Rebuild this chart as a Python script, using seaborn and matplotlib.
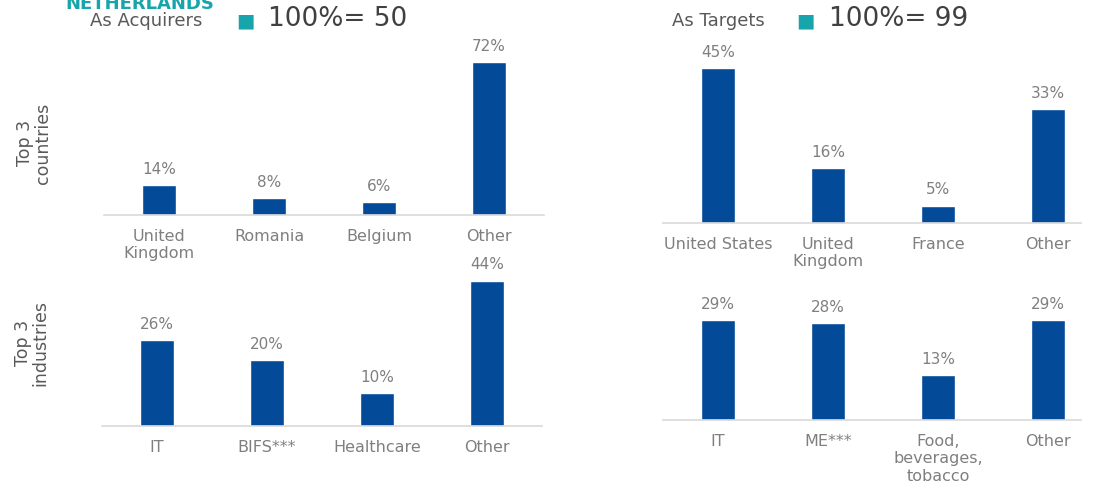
import matplotlib
matplotlib.use("Agg")
import matplotlib.pyplot as plt
import seaborn as sns

sns.set_style("white")
plt.rcParams['font.family'] = ['DejaVu Sans']

# data
acq_countries = ["United\nKingdom", "Romania", "Belgium", "Other"]
acq_countries_pct = [14, 8, 6, 72]
tgt_countries = ["United States", "United\nKingdom", "France", "Other"]
tgt_countries_pct = [45, 16, 5, 33]
acq_industries = ["IT", "BIFS***", "Healthcare", "Other"]
acq_industries_pct = [26, 20, 10, 44]
tgt_industries = ["IT", "ME***", "Food,\nbeverages,\ntobacco", "Other"]
tgt_industries_pct = [29, 28, 13, 29]

BLUE = "#034a99"
TEAL = "#17a5ab"
GRAY = "#7f7f7f"
W, H = 1094, 491

fig = plt.figure(figsize=(W / 100, H / 100), dpi=100)


def panel(left, right, bottom, top, ymax, cats, vals, xmax=3.5):
    ax = fig.add_axes([left / W, 1 - bottom / H, (right - left) / W, (bottom - top) / H])
    sns.barplot(x=cats, y=vals, ax=ax, color=BLUE, width=0.31, saturation=1, order=cats)
    ax.set_xlim(-0.5, xmax)
    ax.set_ylim(0, ymax)
    for s in ["top", "right", "left"]:
        ax.spines[s].set_visible(False)
    ax.spines["bottom"].set_color("#d9d9d9")
    ax.spines["bottom"].set_linewidth(1.2)
    ax.set_yticks([])
    ax.set_xlabel("")
    ax.set_ylabel("")
    ax.tick_params(axis="x", length=0, pad=10, labelsize=11.5, labelcolor=GRAY)
    ax.bar_label(ax.containers[0], labels=[f"{v}%" for v in vals], padding=6,
                 fontsize=11, color=GRAY)
    return ax


panel(104, 544, 215, 45, 80, acq_countries, acq_countries_pct)
panel(663, 1081, 223, 51, 50, tgt_countries, tgt_countries_pct, xmax=3.3)
panel(102, 542, 426, 261, 50, acq_industries, acq_industries_pct)
panel(663, 1081, 420, 282, 40, tgt_industries, tgt_industries_pct, xmax=3.3)

# headers
fig.text(65 / W, 1 - 4 / H, "NETHERLANDS", color=TEAL, fontsize=13, fontweight="bold",
         va="center", ha="left")
fig.text(90 / W, 1 - 21 / H, "As Acquirers", color="#595959", fontsize=13, va="center")
fig.text(236 / W, 1 - 21 / H, "\u25a0", color=TEAL, fontsize=14, va="center")
fig.text(268 / W, 1 - 19 / H, "100%= 50", color="#404040", fontsize=19, va="center")
fig.text(672 / W, 1 - 21 / H, "As Targets", color="#595959", fontsize=13, va="center")
fig.text(796 / W, 1 - 21 / H, "\u25a0", color=TEAL, fontsize=14, va="center")
fig.text(829 / W, 1 - 19 / H, "100%= 99", color="#404040", fontsize=19, va="center")

# row labels
fig.text(34 / W, 1 - 143 / H, "Top 3\ncountries", color="#595959", fontsize=12.5,
         rotation=90, ha="center", va="center", linespacing=0.95)
fig.text(32 / W, 1 - 343 / H, "Top 3\nindustries", color="#595959", fontsize=12.5,
         rotation=90, ha="center", va="center", linespacing=0.95)

fig.savefig("out.png", dpi=100)
